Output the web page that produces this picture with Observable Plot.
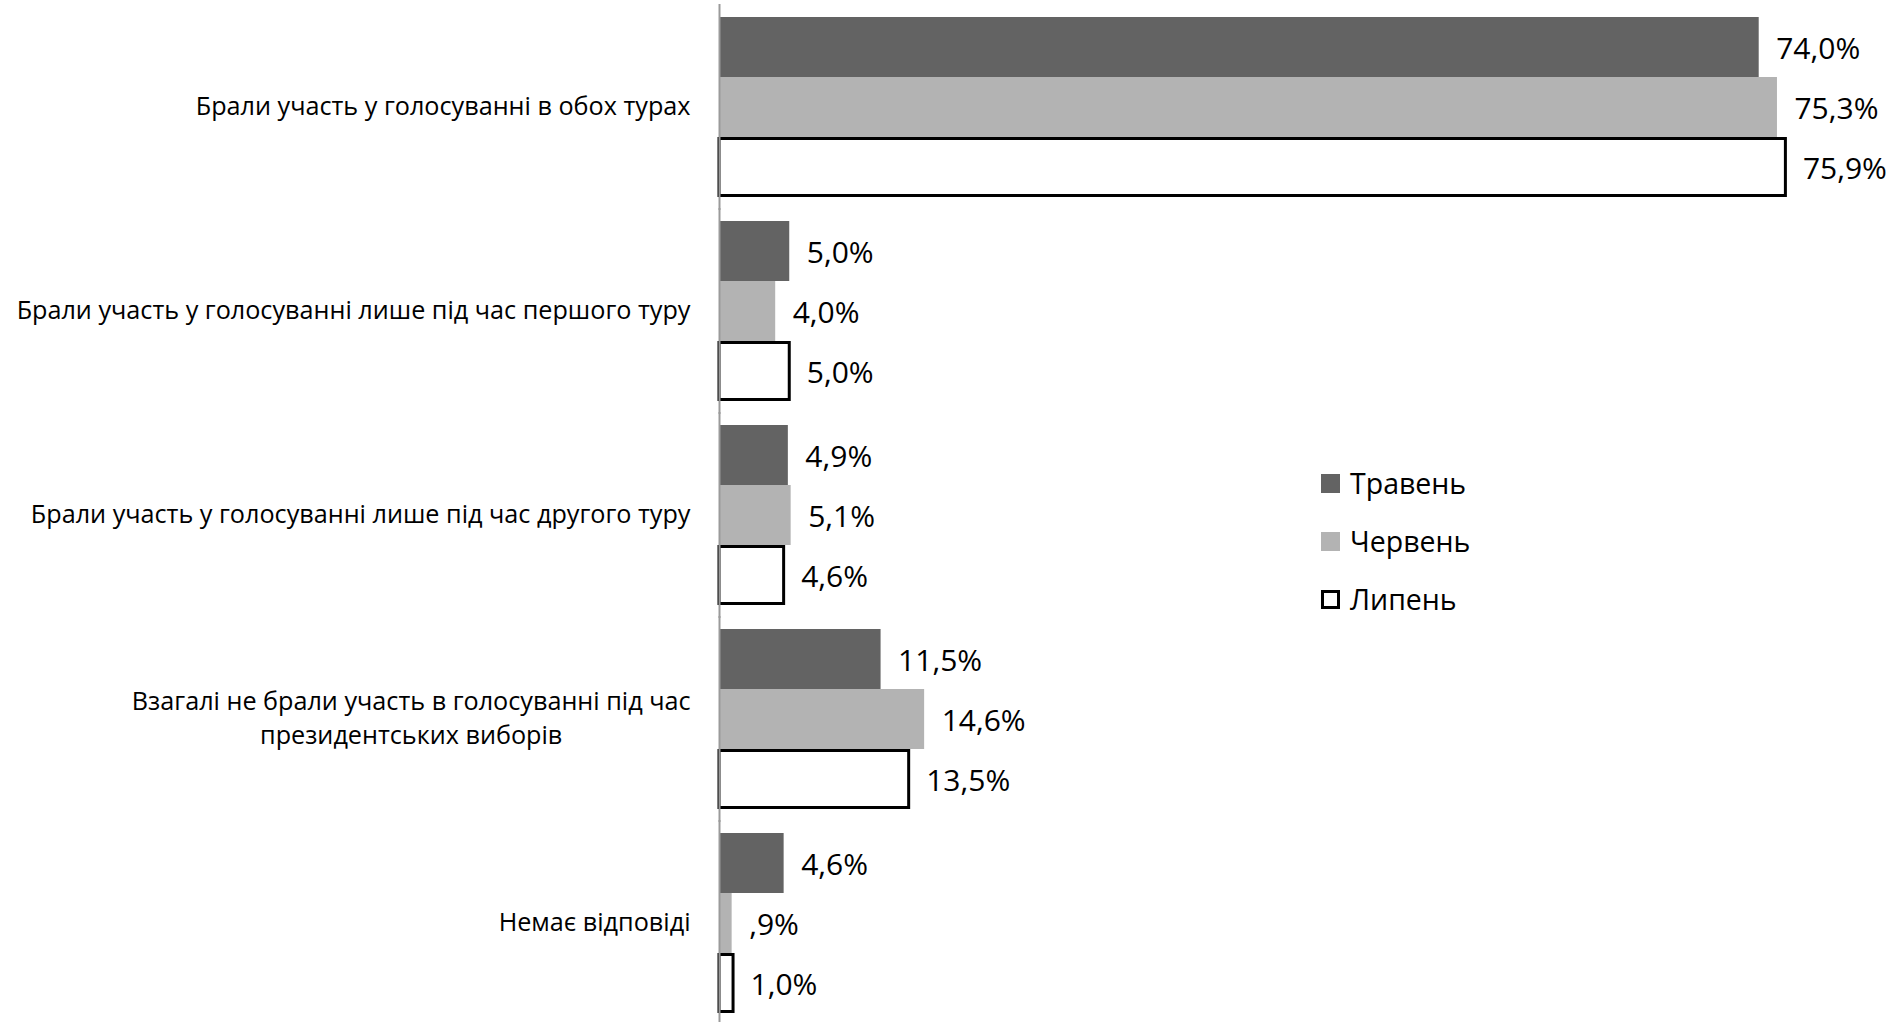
<!DOCTYPE html>
<html>
<head>
<meta charset="utf-8">
<script src="https://cdn.jsdelivr.net/npm/d3@7"></script>
<script src="https://cdn.jsdelivr.net/npm/@observablehq/plot@0.6"></script>
<style>
  html, body { margin: 0; padding: 0; background: #fff; }
  #wrap { position: relative; width: 1900px; height: 1022px; font-family: "Open Sans", sans-serif; }
  #legend { position: absolute; left: 1321px; top: 454px; font-size: 28.5px; color: #000; }
  .row { display: flex; align-items: center; height: 58px; }
  .sw { width: 19px; height: 19px; box-sizing: border-box; margin-right: 10px; }
</style>
</head>
<body>
<div id="wrap"><div id="legend"></div></div>
<script>
const categories = [
  "Брали участь у голосуванні в обох турах",
  "Брали участь у голосуванні лише під час першого туру",
  "Брали участь у голосуванні лише під час другого туру",
  "Взагалі не брали участь в голосуванні під час\nпрезидентських виборів",
  "Немає відповіді"
];
const series = ["Травень", "Червень", "Липень"];
const may  = [74.0, 5.0, 4.9, 11.5, 4.6];
const june = [75.3, 4.0, 5.1, 14.6, 0.9];
const july = [75.9, 5.0, 4.6, 13.5, 1.0];
const colors = ["#636363", "#b3b3b3", "#ffffff"];

const valuesBySeries = [may, june, july];
const data = [];
categories.forEach((c, i) => series.forEach((s, j) => data.push({category: c, series: s, value: valuesBySeries[j][i]})));

const fmt = v => {
  let t = d3.format(".1f")(v).replace(".", ",");
  if (t.startsWith("0,")) t = t.slice(1);
  return t + "%";
};

const chart = Plot.plot({
  width: 1900,
  height: 1022,
  marginLeft: 719,
  marginRight: 57,
  marginTop: 17,
  marginBottom: 9,
  style: {fontFamily: "'Open Sans', sans-serif", color: "#000", background: "#fff"},
  x: {domain: [0, 80], axis: null},
  y: {domain: series, padding: 0, axis: null},
  fy: {domain: categories, paddingInner: 0.12, paddingOuter: 0},
  color: {domain: series, range: colors},
  marks: [
    Plot.barX(data.filter(d => d.series !== "Липень"), {fy: "category", y: "series", x: "value", fill: "series"}),
    Plot.barX(data.filter(d => d.series === "Липень"), {fy: "category", y: "series", x: "value", fill: "#fff", stroke: "#000", strokeWidth: 3, insetTop: 1.5, insetBottom: 1.5}),
    Plot.text(data, {fy: "category", y: "series", x: "value", text: d => fmt(d.value), textAnchor: "start", dx: 17, dy: 2, fontSize: 30, fill: "#000"}),
    Plot.ruleX([0], {stroke: "#9a9a9a", strokeWidth: 2, insetTop: -13, insetBottom: -13}),
    Plot.axisFy({anchor: "left", tickSize: 0, tickPadding: 29, label: null, fontSize: 25.2, lineHeight: 1.35, dy: -3, textAnchor: "end", fill: "#000"})
  ]
});

document.getElementById("wrap").prepend(chart);

// center the wrapped lines of multi-line category labels (as in the source chart)
chart.querySelectorAll("text").forEach(t => {
  if (t.querySelectorAll("tspan").length > 1) {
    const w = t.getBBox().width;
    t.setAttribute("text-anchor", "middle");
    const tr = t.getAttribute("transform") || "";
    t.setAttribute("transform", tr + ` translate(${-w / 2},0)`);
  }
});

const legend = document.getElementById("legend");
series.forEach((s, j) => {
  const row = document.createElement("div");
  row.className = "row";
  const sw = document.createElement("div");
  sw.className = "sw";
  sw.style.background = colors[j];
  if (s === "Липень") sw.style.border = "3px solid #000";
  const label = document.createElement("span");
  label.textContent = s;
  row.append(sw, label);
  legend.append(row);
});
</script>
</body>
</html>
